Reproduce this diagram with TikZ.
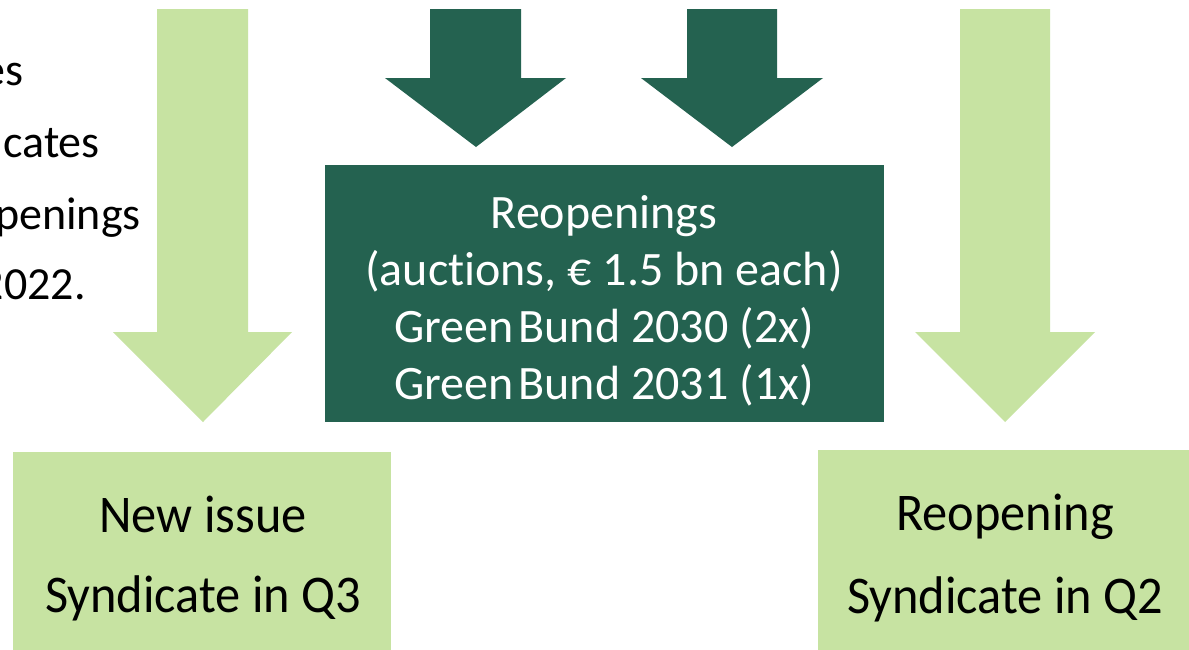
\documentclass[tikz,border=0pt]{standalone}
\usepackage{fontspec}
\setmainfont{Carlito}[Ligatures=NoCommon]
\newfontfamily\lightfont{Carlito}[Ligatures=NoCommon,FakeStretch=0.95]
\definecolor{lightg}{RGB}{199,227,162}
\definecolor{darkg}{RGB}{36,98,80}
\tikzset{
 lightbox/.style={fill=lightg, draw=none, inner sep=0pt, rectangle},
 darkbox/.style={fill=darkg, draw=none, inner sep=0pt, rectangle},
 lighttxt/.style={inner sep=0pt, anchor=base, font=\lightfont\fontsize{53}{60}\selectfont, text=black},
 darktxt/.style={inner sep=0pt, anchor=base, font=\fontsize{48}{56}\selectfont, text=white},
 sidetxt/.style={inner sep=0pt, anchor=base east, font=\fontsize{46}{50}\selectfont, text=black},
}
\begin{document}
\begin{tikzpicture}[x=1pt,y=-1pt]
\clip (0,0) rectangle (1189,649);
\fill[white] (0,0) rectangle (1189,649);
% cut-off side text
\node[sidetxt] (t1) at (24,85) {es};
\node[sidetxt] (t2) at (100,157) {cates};
\node[sidetxt] (t3) at (141,229) {openings};
\node[sidetxt] (t4) at (86,299) {2022.};
% block arrows
\fill[lightg] (157,9) -- (248,9) -- (248,332) -- (292,332) -- (203,422) -- (113,332) -- (157,332) -- cycle;
\fill[darkg] (430,9) -- (521,9) -- (521,78) -- (566,78) -- (476,147) -- (385,78) -- (430,78) -- cycle;
\fill[darkg] (687,9) -- (777,9) -- (777,78) -- (823,78) -- (732,147) -- (641,78) -- (687,78) -- cycle;
\fill[lightg] (960,9) -- (1050,9) -- (1050,332) -- (1095,332) -- (1005,422) -- (915,332) -- (960,332) -- cycle;
% boxes
\node[darkbox, minimum width=559pt, minimum height=257pt] (reop) at (604.5,293.5) {};
\node[lightbox, minimum width=378pt, minimum height=200pt] (newb) at (202,552) {};
\node[lightbox, minimum width=371pt, minimum height=202pt] (reb) at (1003.5,551) {};
% texts
\node[darktxt] (d1) at (604,228) {Reopenings};
\node[darktxt] (d2) at (604,285) {(auctions, € 1.5 bn each)};
\node[darktxt] (d3) at (604,342) {Green\hspace{5pt}Bund 2030 (2x)};
\node[darktxt] (d4) at (604,399) {Green\hspace{5pt}Bund 2031 (1x)};
\node[lighttxt] (n1) at (203,532) {New issue};
\node[lighttxt] (n2) at (203,612) {Syndicate in Q3};
\node[lighttxt] (r1) at (1005,530) {Reopening};
\node[lighttxt] (r2) at (1005,613) {Syndicate in Q2};
\end{tikzpicture}
\end{document}
